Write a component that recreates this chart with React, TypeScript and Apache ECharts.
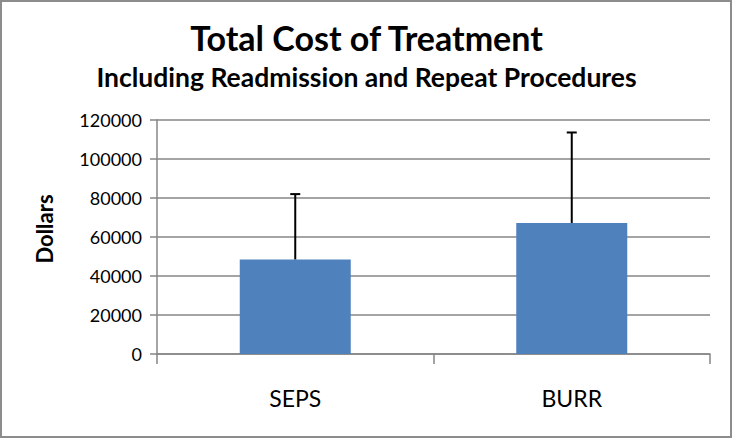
import React, { useEffect, useRef } from "react";
import * as echarts from "echarts";

const categories = ["SEPS", "BURR"];
const meanCost = [48500, 67200];
const upperError = [82000, 113600];
const yTicks = { min: 0, max: 120000, interval: 20000 };

const FONT = "Lato, 'Open Sans', sans-serif";

export default function App() {
  const ref = useRef<HTMLDivElement>(null);
  useEffect(() => {
    document.body.style.margin = "0";
    const chart = echarts.init(ref.current!, null, { renderer: "svg" });
    chart.setOption({
      animation: false,
      backgroundColor: "#ffffff",
      title: [
        {
          text: "Total Cost of Treatment",
          left: "center",
          top: 15,
          textStyle: { fontFamily: FONT, fontSize: 34, fontWeight: "bold", color: "#000" },
        },
        {
          text: "Including Readmission and Repeat Procedures",
          left: "center",
          top: 58,
          textStyle: { fontFamily: FONT, fontSize: 26.5, fontWeight: "bold", color: "#000" },
        },
      ],
      graphic: [
        {
          type: "rect",
          shape: { x: 1, y: 1, width: 730, height: 436 },
          style: { fill: "none", stroke: "#8c8c8c", lineWidth: 2 },
          silent: true,
        },
      ],
      grid: { left: 157, top: 120, width: 553, height: 234 },
      xAxis: {
        type: "category",
        data: categories,
        axisLine: { show: true, lineStyle: { color: "#868686", width: 1.5 } },
        axisTick: { show: true, length: 10, lineStyle: { color: "#868686", width: 1.5 } },
        axisLabel: { margin: 32, fontFamily: FONT, fontSize: 23, color: "#000" },
      },
      yAxis: {
        type: "value",
        min: yTicks.min,
        max: yTicks.max,
        interval: yTicks.interval,
        name: "Dollars",
        nameLocation: "middle",
        nameGap: 102,
        nameRotate: 90,
        nameTextStyle: {
          fontFamily: FONT,
          fontSize: 22,
          fontWeight: "bold",
          color: "#000",
          padding: [0, 0, 0, 16],
        },
        axisLine: { show: true, lineStyle: { color: "#868686", width: 1.5 } },
        axisTick: { show: true, inside: false, length: 7, lineStyle: { color: "#868686", width: 1.5 } },
        axisLabel: {
          margin: 15,
          fontFamily: FONT,
          fontSize: 18,
          color: "#000",
          formatter: (v: number) => String(v),
        },
        splitLine: { show: true, lineStyle: { color: "#868686", width: 1.5 } },
      },
      series: [
        {
          type: "bar",
          data: meanCost,
          barWidth: 111,
          itemStyle: { color: "#4F81BD" },
          z: 2,
        },
        {
          type: "custom",
          data: categories.map((c, i) => [i, meanCost[i], upperError[i]]),
          z: 3,
          renderItem: (params: any, api: any) => {
            const x = api.value(0);
            const lo = api.coord([x, api.value(1)]);
            const hi = api.coord([x, api.value(2)]);
            const half = 5;
            return {
              type: "group",
              children: [
                {
                  type: "line",
                  shape: { x1: lo[0], y1: lo[1], x2: hi[0], y2: hi[1] },
                  style: { stroke: "#000", lineWidth: 2 },
                },
                {
                  type: "line",
                  shape: { x1: hi[0] - half, y1: hi[1], x2: hi[0] + half, y2: hi[1] },
                  style: { stroke: "#000", lineWidth: 2 },
                },
              ],
            };
          },
        },
      ],
    });
    return () => chart.dispose();
  }, []);
  return <div ref={ref} style={{ width: 733, height: 439 }} />;
}
